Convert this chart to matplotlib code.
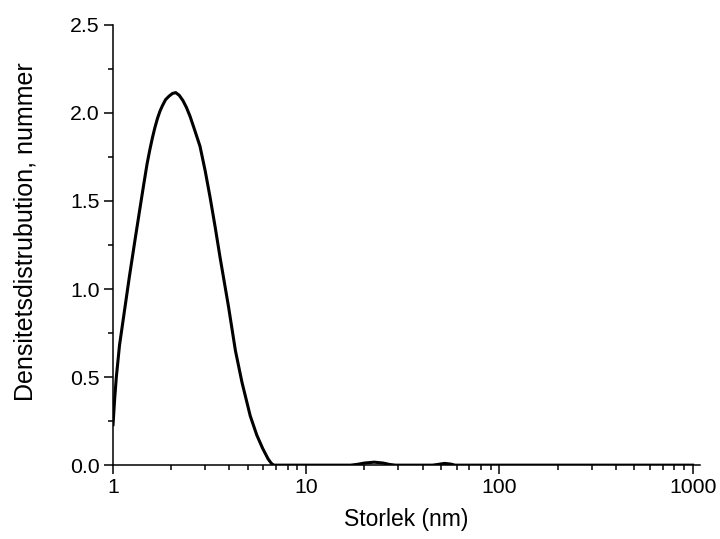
import matplotlib
matplotlib.use("Agg")
import matplotlib.pyplot as plt
from matplotlib.ticker import MultipleLocator, LogLocator, FixedLocator, FixedFormatter, NullFormatter

plt.rcParams["font.family"] = ["Liberation Sans", "DejaVu Sans"]

# particle size (nm) and number density
size_nm = [1.0, 1.02, 1.04, 1.08, 1.13, 1.215, 1.30, 1.37, 1.435, 1.50, 1.55,
           1.60, 1.65, 1.70, 1.75, 1.80, 1.87, 1.95, 2.03, 2.11, 2.20, 2.30,
           2.40, 2.505, 2.65, 2.82, 3.00, 3.18, 3.38, 3.58, 3.96, 4.30, 4.65,
           5.13, 5.55, 5.95, 6.35, 6.6, 6.8, 8.0, 12.0, 17.0, 18.5, 20.0,
           22.5, 25.0, 27.0, 29.0, 45.0, 48.0, 52.0, 56.0, 59.0, 100.0, 1000.0]
density = [0.23, 0.38, 0.50, 0.68, 0.83, 1.07, 1.28, 1.44, 1.58, 1.71, 1.79,
           1.86, 1.92, 1.97, 2.01, 2.04, 2.075, 2.095, 2.11, 2.115, 2.10, 2.07,
           2.03, 1.98, 1.90, 1.81, 1.67, 1.52, 1.35, 1.18, 0.90, 0.65, 0.47,
           0.28, 0.17, 0.095, 0.035, 0.01, 0.0, 0.0, 0.0, 0.0, 0.005, 0.012,
           0.017, 0.012, 0.004, 0.0, 0.0, 0.004, 0.01, 0.006, 0.0, 0.0, 0.0]

xticks = [1, 10, 100, 1000]
xticklabels = ["1", "10", "100", "1000"]

fig = plt.figure(figsize=(7.2, 5.39), dpi=100)
ax = fig.add_axes([0.157, 0.137, 0.815, 0.817])

ax.plot(size_nm, density, color="black", lw=2.2, solid_joinstyle="round", zorder=3)

ax.set_xscale("log")
ax.set_xlim(1, 1090)
ax.set_ylim(0, 2.5)

ax.xaxis.set_major_locator(FixedLocator(xticks))
ax.xaxis.set_major_formatter(FixedFormatter(xticklabels))
ax.xaxis.set_minor_locator(LogLocator(base=10, subs=range(2, 10)))
ax.xaxis.set_minor_formatter(NullFormatter())
ax.yaxis.set_major_locator(MultipleLocator(0.5))
ax.yaxis.set_minor_locator(MultipleLocator(0.25))
ax.yaxis.set_major_formatter(plt.FuncFormatter(lambda v, p: f"{v:.1f}"))

for s in ("top", "right"):
    ax.spines[s].set_visible(False)
for s in ("left", "bottom"):
    ax.spines[s].set_linewidth(1.1)

ax.tick_params(which="major", direction="out", length=6.5, width=1.1, labelsize=15.3, pad=3)
ax.tick_params(which="minor", direction="out", length=3.5, width=1.1)

ax.set_xlabel("Storlek (nm)", fontsize=16.5, labelpad=8)
ax.set_ylabel("Densitetsdistrubution, nummer", fontsize=18)
# label sits a bit above the axis centre in the reference
ax.yaxis.set_label_coords(-0.128, 0.53)

fig.savefig("out.png", dpi=100)
